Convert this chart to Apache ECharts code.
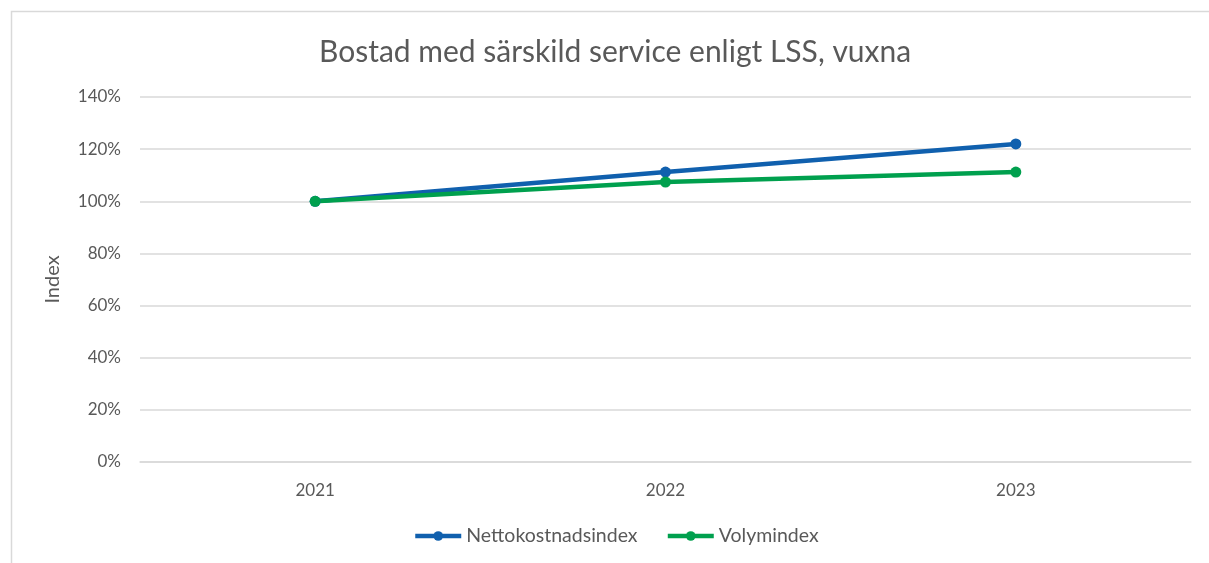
<!DOCTYPE html>
<html><head><meta charset="utf-8">
<script src="https://cdn.jsdelivr.net/npm/echarts@6/dist/echarts.min.js"></script>
<style>html,body{margin:0;padding:0;background:#fff}#c{width:1209px;height:563px}</style>
</head><body><div id="c"></div>
<script>
const categories = ['2021', '2022', '2023'];
const netto = [100, 111.2, 122.0];
const volym = [100, 107.4, 111.2];
const seriesNames = ['Nettokostnadsindex', 'Volymindex'];
const titleText = 'Bostad med särskild service enligt LSS, vuxna';
const yAxisName = 'Index';

const font = 'Lato, "Open Sans", sans-serif';
const chart = echarts.init(document.getElementById('c'));
chart.setOption({
  animation: false,
  title: { text: titleText, left: 314, top: 32,
    textStyle: { fontFamily: font, fontSize: 30, fontWeight: 'normal', color: '#595959' } },
  graphic: [{ type: 'rect', shape: { x: 11.5, y: 11.5, width: 1400, height: 800 },
    style: { fill: 'none', stroke: '#d9d9d9', lineWidth: 1.5 }, silent: true }],
  grid: { left: 140, right: 18, top: 97, bottom: 101, containLabel: false },
  legend: { bottom: 12, left: 408, itemWidth: 46, itemHeight: 12, itemGap: 28,
    data: seriesNames,
    lineStyle: { width: 4.5 },
    textStyle: { fontFamily: font, fontSize: 19.5, color: '#595959', padding: [0, 0, 0, 0] } },
  xAxis: { type: 'category', data: categories, boundaryGap: true,
    axisLine: { lineStyle: { color: '#d9d9d9', width: 1.5 } }, axisTick: { show: false },
    axisLabel: { fontFamily: font, fontSize: 17, color: '#595959', margin: 20 } },
  yAxis: { type: 'value', min: 0, max: 140, interval: 20,
    name: yAxisName, nameLocation: 'middle', nameGap: 77, nameRotate: 90,
    nameTextStyle: { fontFamily: font, fontSize: 20, color: '#595959' },
    axisLine: { show: false }, axisTick: { show: false },
    splitLine: { lineStyle: { color: '#d9d9d9', width: 1.5 } },
    axisLabel: { fontFamily: font, fontSize: 17, color: '#595959', margin: 19, formatter: v => v + '%' } },
  series: [
    { name: seriesNames[0], type: 'line', data: netto, symbol: 'circle', symbolSize: 11,
      lineStyle: { width: 4.5, color: '#1060AE' }, itemStyle: { color: '#1060AE' } },
    { name: seriesNames[1], type: 'line', data: volym, symbol: 'circle', symbolSize: 11,
      lineStyle: { width: 4.5, color: '#00A04E' }, itemStyle: { color: '#00A04E' } }
  ]
});
</script></body></html>
